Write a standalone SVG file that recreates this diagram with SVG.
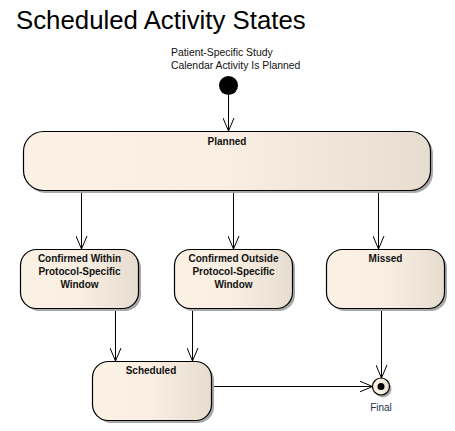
<svg xmlns="http://www.w3.org/2000/svg" width="455" height="431" viewBox="0 0 455 431">
<defs>
<linearGradient id="g" x1="0" y1="0" x2="1" y2="0">
<stop offset="0" stop-color="#FBF1E4"/>
<stop offset="0.5" stop-color="#F8EEE1"/>
<stop offset="1" stop-color="#E6DDD0"/>
</linearGradient>
<marker id="arr" markerWidth="14" markerHeight="12" refX="13" refY="6" orient="auto" markerUnits="userSpaceOnUse">
<path d="M0,0.5 L13,6 L0,11.5" fill="none" stroke="#000" stroke-width="1"/>
</marker>
</defs>
<style>
.st{fill:url(#g);stroke:#000;stroke-width:1.2}
.sh{fill:#A8A8A8}
.lb{font-family:"Liberation Sans",Arial,sans-serif;font-size:10px;font-weight:bold;fill:#111;text-anchor:middle}
.nt{font-family:"Liberation Sans",Arial,sans-serif;font-size:10.4px;fill:#111}
.cn{fill:none;stroke:#000;stroke-width:1;marker-end:url(#arr)}
</style>
<rect width="455" height="431" fill="#fff"/>
<text x="16" y="29" font-family="'Liberation Sans',Arial,sans-serif" font-size="25.8" fill="#000">Scheduled Activity States</text>

<g id="connectors">
<line class="cn" x1="228.5" y1="95" x2="228.5" y2="131"/>
<line class="cn" x1="81.5" y1="190" x2="81.5" y2="249"/>
<line class="cn" x1="233.5" y1="190" x2="233.5" y2="249"/>
<line class="cn" x1="378.5" y1="190" x2="378.5" y2="249"/>
<line class="cn" x1="115.5" y1="308" x2="115.5" y2="361"/>
<line class="cn" x1="192.5" y1="308" x2="192.5" y2="361"/>
<line class="cn" x1="381.5" y1="308" x2="381.5" y2="378"/>
<line class="cn" x1="211" y1="386.5" x2="372.5" y2="386.5"/>
</g>

<g id="initial">
<circle cx="228.5" cy="85.5" r="9.5" fill="#000"/>
<text class="nt" x="171" y="56">Patient-Specific Study</text>
<text class="nt" x="171" y="69">Calendar Activity Is Planned</text>
</g>

<g id="planned">
<rect class="sh" x="26" y="134" width="407" height="59" rx="20"/>
<rect class="st" x="23.5" y="131.5" width="407" height="59" rx="20"/>
<text class="lb" x="227" y="145">Planned</text>
</g>

<g id="confirmedWithin">
<rect class="sh" x="23" y="252" width="118" height="59" rx="16"/>
<rect class="st" x="20.5" y="249.5" width="118" height="59" rx="16"/>
<text class="lb" x="79.5" y="262">Confirmed Within</text>
<text class="lb" x="79.5" y="275">Protocol-Specific</text>
<text class="lb" x="79.5" y="288">Window</text>
</g>

<g id="confirmedOutside">
<rect class="sh" x="177" y="252" width="118" height="59" rx="16"/>
<rect class="st" x="174.5" y="249.5" width="118" height="59" rx="16"/>
<text class="lb" x="233.5" y="262">Confirmed Outside</text>
<text class="lb" x="233.5" y="275">Protocol-Specific</text>
<text class="lb" x="233.5" y="288">Window</text>
</g>

<g id="missed">
<rect class="sh" x="329" y="252" width="118" height="59" rx="16"/>
<rect class="st" x="326.5" y="249.5" width="118" height="59" rx="16"/>
<text class="lb" x="385.5" y="262">Missed</text>
</g>

<g id="scheduled">
<rect class="sh" x="95" y="364" width="119" height="59" rx="16"/>
<rect class="st" x="92.5" y="361.5" width="119" height="59" rx="16"/>
<text class="lb" x="151" y="374">Scheduled</text>
</g>

<g id="final">
<circle cx="383" cy="389" r="8.5" fill="#A8A8A8"/>
<circle cx="381" cy="386.5" r="8.5" fill="url(#g)" stroke="#000" stroke-width="1.2"/>
<circle cx="381" cy="386.5" r="3.5" fill="#000"/>
<text x="381" y="410.5" text-anchor="middle" font-family="'Liberation Sans',Arial,sans-serif" font-size="10" fill="#22334a">Final</text>
</g>
</svg>
